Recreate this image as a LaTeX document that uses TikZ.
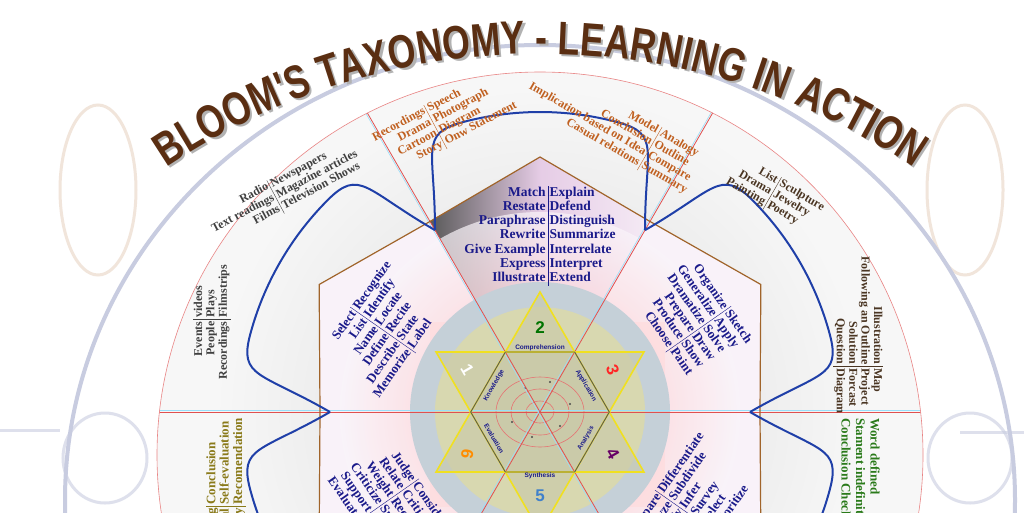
\documentclass[tikz,border=0pt]{standalone}
\usepackage{fontspec}
\setmainfont{Liberation Serif}
\newfontfamily\titlefont[FakeStretch=0.76]{Liberation Sans}
\newfontfamily\lblfont{Liberation Sans}
\usetikzlibrary{decorations.text,calc}
\definecolor{blueT}{HTML}{1A1A8A}
\definecolor{orangeT}{HTML}{C06020}
\definecolor{grayT}{HTML}{404040}
\definecolor{brownT}{HTML}{4A3522}
\definecolor{oliveT}{HTML}{8A7A1A}
\definecolor{greenT}{HTML}{2A7A1A}
\definecolor{titleB}{HTML}{5A2E12}
\definecolor{tabB}{HTML}{1F3FA8}
\definecolor{polyB}{HTML}{A0642A}
\definecolor{spokeR}{HTML}{E05050}
\definecolor{ringG}{HTML}{C8CCE0}
\definecolor{loopB}{HTML}{E8D4C4}
\definecolor{starY}{HTML}{F0E020}
\definecolor{bgBlue}{HTML}{C5D0D8}
\definecolor{bgOlive}{HTML}{D8D8B0}
\definecolor{bgStar}{HTML}{C8C8A8}
\tikzset{
  tbl/.style={inner sep=0pt,font=\fontsize{12}{13.5}\selectfont\bfseries},
  tblmid/.style={inner sep=0pt,font=\fontsize{13}{14.5}\selectfont\bfseries},
  tblbig/.style={inner sep=0pt,font=\fontsize{13.5}{15.5}\selectfont\bfseries},
  edgelbl/.style={inner sep=0.5pt,font=\lblfont\fontsize{6.5}{7}\selectfont\bfseries,text=blueT},
  numlbl/.style={font=\lblfont\fontsize{17}{17}\selectfont\bfseries},
  tabline/.style={draw=tabB,line width=2pt},
}
\newcommand{\twocol}[1]{{\renewcommand{\arraystretch}{0.92}\setlength{\tabcolsep}{2pt}\begin{tabular}{@{}r|l@{}}#1\end{tabular}}}
\begin{document}
\begin{tikzpicture}[x=1pt,y=1pt]
\useasboundingbox (0,0) rectangle (1024,-512);
\clip (0,0) rectangle (1024,-512);
\fill[white] (0,0) rectangle (1024,-512);
% decorative loops
\draw[loopB,line width=3pt,opacity=.6] (98,-190) ellipse (38 and 85);
\draw[loopB,line width=3pt,opacity=.6] (965,-190) ellipse (38 and 85);
\draw[ringG,line width=3pt,opacity=.6] (105,-458) ellipse (42 and 45);
\draw[ringG,line width=3pt,opacity=.6] (970,-458) ellipse (42 and 45);
\draw[ringG,line width=3pt,opacity=.6] (0,-430) -- (60,-430) (1024,-432) -- (960,-432);
% outer gray ring
\draw[ringG,line width=4pt] (540,-500) ellipse (475 and 455);
% red circle
\fill[gray!6] (540,-455) circle (383);
\shade[inner color=gray!28,outer color=gray!6] (540,-412) circle (330);
\begin{scope}[shift={(540,-412)}]
  \fill[violet!5] (0:220)--(30:255)--(60:220)--(90:255)--(120:220)--(150:255)--(180:220)--(210:255)--(240:220)--(270:255)--(300:220)--(330:255)--cycle;
  \shade[left color=black!65,right color=violet!8,middle color=violet!20] (0,0)--(60:220)--(90:255)--(120:220)--cycle;
  \shade[inner color=red!30,outer color=violet!4,opacity=.7] (0,0) circle (200);
  \fill[red!15,opacity=.5] (-110,-95) rectangle (125,90);
  \fill[bgBlue] (0,0) circle (130);
  \fill[bgOlive] (0,0) circle (105);
  \fill[bgStar,opacity=.6] (90:120)--(210:120)--(330:120)--cycle;
  \fill[bgStar,opacity=.6] (30:120)--(150:120)--(270:120)--cycle;
  \foreach \a/\b in {44/35,29/23,14/11} \draw[spokeR!80,line width=.6pt] (0,0) ellipse (\a pt and \b pt);
  \foreach \p in {(20,-14),(-15,24),(30,8),(-28,-10),(10,30),(-8,-25)} \fill[black!70] \p circle (1.1);
\end{scope}
% spokes
\begin{scope}
  \clip (540,-455) circle (383);
  \begin{scope}[shift={(540,-412)}]
    \foreach \a in {0,60,120} {
      \draw[cyan!40,line width=.6pt] ($(\a:-420)+(\a+90:1.5)$) -- ($(\a:420)+(\a+90:1.5)$);
      \draw[spokeR,line width=.8pt] (\a:-420) -- (\a:420);
    }
  \end{scope}
\end{scope}
\draw[spokeR!70,line width=.6pt] (540,-455) circle (383);
\begin{scope}[shift={(540,-412)}]
  \draw[polyB,line width=1.2pt] (0:220)--(30:255)--(60:220)--(90:255)--(120:220)--(150:255)--(180:220)--(210:255)--(240:220)--(270:255)--(300:220)--(330:255)--cycle;
  \foreach \k in {0,...,5} {
    \begin{scope}[rotate=60*\k]
      \draw[tabline] (120:210) .. controls +(90:80) and +(195:45) .. (105:300) arc[start angle=105,end angle=75,radius=300] .. controls +(-15:45) and +(90:80) .. (60:210);
    \end{scope}
  }
  \draw[starY,line width=1.6pt] (90:120)--(210:120)--(330:120)--cycle;
  \draw[starY,line width=1.6pt] (30:120)--(150:120)--(270:120)--cycle;
  \draw[gray!70!black,line width=.9pt] (0:69.3)--(60:69.3)--(120:69.3)--(180:69.3)--(240:69.3)--(300:69.3)--cycle;
  \node[edgelbl,anchor=south] (cmp) at (0,60.5) {Comprehension};
  \node[edgelbl,rotate=60] (knw) at (150:53) {Knowledge};
  \node[edgelbl,rotate=-60] (app) at (30:53) {Application};
  \node[edgelbl,rotate=60] (ana) at (-30:53) {Analysis};
  \node[edgelbl,anchor=north] (syn) at (0,-60.5) {Synthesis};
  \node[edgelbl,rotate=-60] (eva) at (210:53) {Evaluation};
  \node[numlbl,text=green!45!black] (n2) at (90:84) {2};
  \node[numlbl,text=red!85,rotate=-70] (n3) at (30:84) {3};
  \node[numlbl,text=violet!80!black,rotate=-60] (n4) at (-30:84) {4};
  \node[numlbl,text=cyan!50!blue!80] (n5) at (270:84) {5};
  \node[numlbl,text=orange!90!yellow,rotate=-100] (n6) at (210:84) {6};
  \node[numlbl,text=white,rotate=-60] (n1) at (150:84) {1};
\end{scope}
% title
\path[decorate,decoration={text along path,text align=center,
  text={|\titlefont\fontsize{47}{47}\selectfont\bfseries\color{gray!60}|BLOOM'S TAXONOMY - LEARNING IN ACTION}}]
  ($(542.5,-726)+(126:670)$) arc[start angle=126,end angle=54,radius=670];
\path[decorate,decoration={text along path,text align=center,
  text={|\titlefont\fontsize{47}{47}\selectfont\bfseries\color{titleB}|BLOOM'S TAXONOMY - LEARNING IN ACTION}}]
  ($(540,-724)+(126:670)$) arc[start angle=126,end angle=54,radius=670];
% inner text blocks
\node[tblbig,text=blueT] (t2) at (540,-236) {\twocol{Match & Explain\\ Restate & Defend\\ Paraphrase & Distinguish\\ Rewrite & Summarize\\ Give Example & Interrelate\\ Express & Interpret\\ Illustrate & Extend}};
\node[tblmid,text=blueT,rotate=55] (t1) at (383,-330) {\twocol{Select & Recognize\\ List & Identify\\ Name & Locate\\ Define & Recite\\ Describe & State\\ Memorize & Label}};
\node[tblmid,text=blueT,rotate=-55] (t3) at (692,-320) {\twocol{Organize & Sketch\\ Generalize & Apply\\ Dramatize & Solve\\ Prepare & Draw\\ Produce & Show\\ Choose & Paint}};
\node[tblmid,text=blueT,rotate=-55] (t6) at (392,-510) {\twocol{Judge & Consider\\ Relate & Critique\\ Weight & Recommend\\ Criticize & Summarize\\ Support & Appraise\\ Evaluate & Justify}};
\node[tblmid,text=blueT,rotate=55] (t4) at (690,-510) {\twocol{Compare & Differentiate\\ Analyze & Subdivide\\ Classify & Infer\\ Point out & Survey\\ Distinguish & Select\\ Categorize & Prioritize}};
% outer text blocks
\node[tbl,text=orangeT,rotate=28] (o2a) at (445,-122) {\twocol{Recordings & Speech\\ Drama & Photograph\\ Cartoon & Diagram\\ Story & Onw Statement}};
\node[tbl,text=orangeT,rotate=-30] (o2b) at (614,-128) {\twocol{Model & Analogy\\ Conclusion & Outline\\ Implication based on Idea & Compare\\ Casual relations & Summary}};
\node[tbl,text=grayT,rotate=28] (o1a) at (285,-192) {\twocol{Radio & Newspapers\\ Text readings & Magazine articles\\ Films & Television Shows}};
\node[tbl,text=brownT,rotate=-30] (o3a) at (775,-195) {\twocol{List & Sculpture\\ Drama & Jewelry\\ Painting & Poetry}};
\node[tbl,text=grayT,rotate=90] (o1b) at (212,-322) {\twocol{Events & videos\\ People & Plays\\ Recordings & Filmstrips}};
\node[tbl,text=brownT,rotate=-90] (o3b) at (858,-335) {\twocol{Illustration & Map\\ Following an Outline & Project\\ Solution & Forcast\\ Question & Diagram}};
\node[tblmid,text=oliveT,rotate=90] (o6) at (226,-492) {\twocol{Reasoning & Conclusion\\ Critical & Self-evaluation\\ Summary & Recomendation}};
\node[tblmid,text=greenT,rotate=-90,anchor=north west,align=left] (o4) at (880,-418) {Word defined\\ Stament indefinite\\ Conclusion Checked};
\end{tikzpicture}
\end{document}
